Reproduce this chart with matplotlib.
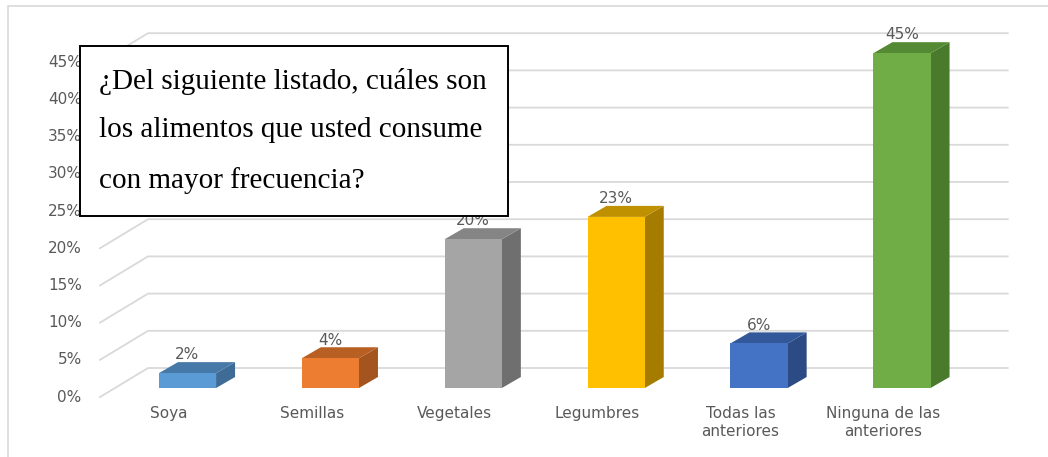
import matplotlib
matplotlib.use("Agg")
import matplotlib.pyplot as plt
from matplotlib.patches import Polygon, Rectangle

categorias = ["Soya", "Semillas", "Vegetales", "Legumbres",
              "Todas las\nanteriores", "Ninguna de las\nanteriores"]
valores = [2, 4, 20, 23, 6, 45]
ticks_y = [0, 5, 10, 15, 20, 25, 30, 35, 40, 45]

# colores frente / lateral / tapa
c_frente = ["#5B9BD5", "#ED7D31", "#A5A5A5", "#FFC000", "#4472C4", "#70AD47"]
c_lado = ["#3E6C96", "#A4541F", "#6F6F6F", "#A57C00", "#2C4A84", "#4A7A2C"]
c_tapa = ["#4779A8", "#B85F23", "#858585", "#BF9000", "#33589A", "#548A33"]

ANCHO = 0.40      # ancho de la cara frontal (en categorias)
PROF_X = 0.133    # profundidad 3D en x
PROF_Y = 1.48     # profundidad 3D en y (en %)
GRIS = "#595959"
FUENTE = "DejaVu Sans"
TAM = 11


def generar_grafico():
    fig = plt.figure(figsize=(10.48, 4.57), dpi=100)
    ax = fig.add_axes([0, 0, 1, 1])
    ax.set_xlim(-1.312, 6.022)
    ax.set_ylim(-9.27, 52.15)
    ax.axis("off")

    # marco exterior gris
    fig.patches.append(Rectangle((8 / 1048, -0.1), 1.2, 1.1 - 6 / 457,
                                 transform=fig.transFigure, fill=False,
                                 edgecolor="#D9D9D9", lw=1.2))

    # lineas de cuadricula (pared del fondo + diagonal del suelo)
    x_frente, x_fondo, x_fin = -0.612, -0.276, 5.74
    for v in ticks_y:
        ax.plot([x_frente, x_fondo, x_fin], [v - 1.21, v + 2.69, v + 2.69],
                color="#D9D9D9", lw=1.3, zorder=1)
        ax.text(-0.74, v - 1.21, f"{v}%", ha="right", va="center",
                fontsize=TAM, color=GRIS, family=FUENTE, zorder=2)

    # barras con efecto 3D
    for i, v in enumerate(valores):
        x0, x1 = i - ANCHO / 2, i + ANCHO / 2
        ax.add_patch(Polygon([(x1, 0), (x1 + PROF_X, PROF_Y),
                              (x1 + PROF_X, v + PROF_Y), (x1, v)],
                             closed=True, facecolor=c_lado[i], edgecolor="none", zorder=3))
        ax.add_patch(Polygon([(x0, v), (x1, v), (x1 + PROF_X, v + PROF_Y),
                              (x0 + PROF_X, v + PROF_Y)],
                             closed=True, facecolor=c_tapa[i], edgecolor="none", zorder=3))
        ax.add_patch(Rectangle((x0, 0), ANCHO, v, facecolor=c_frente[i],
                               edgecolor="none", zorder=4))
        ax.text(i, v + 2.45, f"{v}%", ha="center", va="center",
                fontsize=TAM, color=GRIS, family=FUENTE, zorder=5)
        ax.text(i - 0.13, -2.4, categorias[i], ha="center", va="top",
                fontsize=TAM, color=GRIS, family=FUENTE, linespacing=1.25, zorder=5)

    # cuadro de texto con la pregunta
    fig.patches.append(Rectangle((80 / 1048, 1 - 216 / 457), 428 / 1048, 170 / 457,
                                 transform=fig.transFigure, facecolor="white",
                                 edgecolor="black", lw=1.4, zorder=9))
    fig.text(99 / 1048, 1 - 131 / 457,
             "¿Del siguiente listado, cuáles son\nlos alimentos que usted consume\ncon mayor frecuencia?",
             ha="left", va="center", fontsize=21, family="Liberation Serif",
             color="black", linespacing=2.1, zorder=10)

    fig.savefig("out.png", dpi=100)


if __name__ == "__main__":
    generar_grafico()
